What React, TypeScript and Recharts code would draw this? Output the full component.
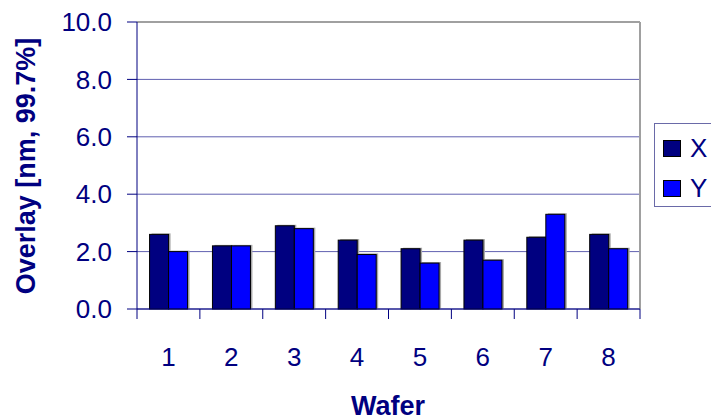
import React from "react";
import {
  BarChart,
  Bar,
  XAxis,
  YAxis,
  CartesianGrid,
  ReferenceLine,
} from "recharts";

const wafers = ["1", "2", "3", "4", "5", "6", "7", "8"];
const xOverlay = [2.6, 2.2, 2.9, 2.4, 2.1, 2.4, 2.5, 2.6];
const yOverlay = [2.0, 2.2, 2.8, 1.9, 1.6, 1.7, 3.3, 2.1];
const yTicks = [0, 2, 4, 6, 8, 10];

const data = wafers.map((w, i) => ({ wafer: w, X: xOverlay[i], Y: yOverlay[i] }));

const NAVY = "#000080";
const FONT = "'Liberation Sans', Arial, sans-serif";
const W = 711;
const H = 420;
const M = { top: 22, right: 71, bottom: 0, left: 0 };
const Y_AXIS_W = 137;
const BAND = (W - Y_AXIS_W - M.right) / wafers.length;

function ShadowBar(props: any) {
  const { x, y, width, height, fill } = props;
  if (!height || height <= 0) return null;
  return (
    <g>
      <rect x={x + 2} y={y - 1} width={width} height={height + 1} fill="#a8a8a8" />
      <rect x={x} y={y} width={width} height={height} fill={fill} stroke="#000" strokeWidth={1} />
    </g>
  );
}

function WaferTick(props: any) {
  const { x, y, payload, index } = props;
  const left = x - BAND / 2;
  return (
    <g>
      <line x1={left} y1={y} x2={left} y2={y + 10} stroke={NAVY} strokeWidth={1} />
      {index === wafers.length - 1 && (
        <line x1={left + BAND} y1={y} x2={left + BAND} y2={y + 10} stroke={NAVY} strokeWidth={1} />
      )}
      <text x={x} y={y + 57} textAnchor="middle" fill={NAVY} fontSize={26} fontFamily={FONT}>
        {payload.value}
      </text>
    </g>
  );
}

function LegendBox() {
  const items = [
    { name: "X", color: NAVY },
    { name: "Y", color: "#0000ff" },
  ];
  return (
    <div
      style={{
        position: "absolute",
        left: 654,
        top: 123,
        width: 80,
        height: 84,
        border: "1px solid #6a6aa8",
        boxSizing: "border-box",
        paddingTop: 4,
        fontFamily: FONT,
      }}
    >
      {items.map((it) => (
        <div key={it.name} style={{ display: "flex", alignItems: "center", height: 40 }}>
          <span
            style={{
              display: "inline-block",
              width: 18,
              height: 17,
              background: it.color,
              border: "1px solid #000",
              boxSizing: "border-box",
              marginLeft: 8,
              marginRight: 9,
            }}
          />
          <span style={{ color: NAVY, fontSize: 26, lineHeight: "26px" }}>{it.name}</span>
        </div>
      ))}
    </div>
  );
}

export default function App() {
  return (
    <div style={{ position: "absolute", left: 0, top: 0, width: W, height: H, overflow: "hidden", background: "#fff" }}>
      <BarChart width={W} height={H} data={data} margin={M} barGap={0} barCategoryGap="20%">
        <CartesianGrid vertical={false} stroke="#6060b0" />
        <CartesianGrid
          horizontal={false}
          stroke="#a0a0a0"
          strokeWidth={2}
          verticalCoordinatesGenerator={() => [W - M.right]}
        />
        <ReferenceLine y={10} stroke="#a0a0a0" strokeWidth={2} />
        <XAxis
          dataKey="wafer"
          height={H - 309}
          axisLine={{ stroke: NAVY }}
          tickLine={false}
          tickSize={0}
          tickMargin={0}
          interval={0}
          tick={<WaferTick />}
          label={() => (
            <text x={388} y={415} textAnchor="middle" fill={NAVY} fontSize={27} fontWeight="bold" fontFamily={FONT}>
              Wafer
            </text>
          )}
        />
        <YAxis
          width={Y_AXIS_W}
          domain={[0, 10]}
          ticks={yTicks}
          interval={0}
          tickFormatter={(v: number) => v.toFixed(1)}
          axisLine={{ stroke: NAVY }}
          tickLine={{ stroke: NAVY }}
          tickSize={10}
          tickMargin={15}
          tick={{ fill: NAVY, fontSize: 26, fontFamily: FONT }}
          label={() => (
            <text
              x={35}
              y={166}
              transform="rotate(-90, 35, 166)"
              textAnchor="middle"
              fill={NAVY}
              fontSize={27}
              fontWeight="bold"
              fontFamily={FONT}
            >
              Overlay [nm, 99.7%]
            </text>
          )}
        />
        <Bar dataKey="X" fill={NAVY} shape={<ShadowBar />} isAnimationActive={false} />
        <Bar dataKey="Y" fill="#0000ff" shape={<ShadowBar />} isAnimationActive={false} />
      </BarChart>
      <LegendBox />
    </div>
  );
}
